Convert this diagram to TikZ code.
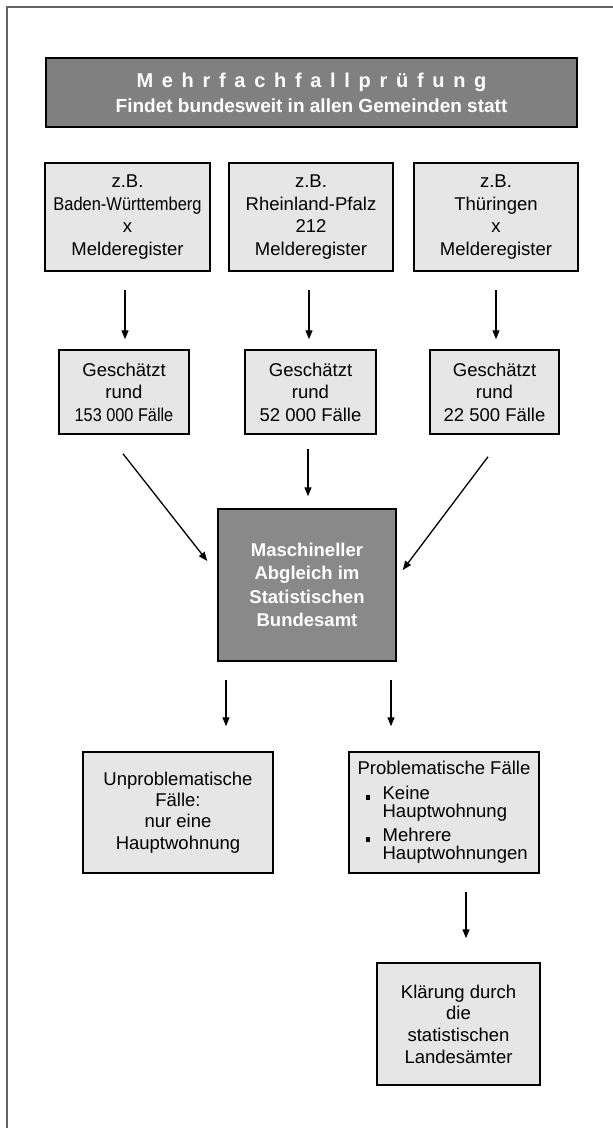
\documentclass[tikz,border=0pt]{standalone}
\usepackage{fontspec}
\setmainfont{Liberation Sans}
\usepackage{graphicx}
\usetikzlibrary{arrows.meta,calc}
\definecolor{lightbox}{RGB}{230,230,230}
\definecolor{darkbox}{RGB}{128,128,128}
\definecolor{darkboxb}{RGB}{137,137,137}
\definecolor{framegray}{RGB}{100,100,100}
\begin{document}
\begin{tikzpicture}[x=1pt,y=-1pt,
  box/.style={draw=black, line width=1.5pt, fill=lightbox, inner sep=0pt, align=center,
    font=\fontsize{18.5}{22.5}\selectfont},
  darkcell/.style={draw=black, line width=1.5pt, fill=darkbox, inner sep=0pt, align=center,
    text=white, font=\bfseries\fontsize{18.5}{23.3}\selectfont},
  arr/.style={-{Triangle[length=9pt,width=7pt]}, line width=1.3pt}]
\useasboundingbox (0,0) rectangle (613,1128);
% frame
\draw[framegray, line width=2pt] (7,1128) -- (7,7) -- (613,7);
% title
\node[darkcell, minimum width=531pt, minimum height=69pt, font=\bfseries\fontsize{19}{25}\selectfont] (T) at (311.5,92.5)
  {{\fontsize{20}{25}\selectfont\spaceskip=8.7pt M e h r f a c h f a l l p r ü f u n g}\\Findet bundesweit in allen Gemeinden statt};
% top row
\node[box, minimum width=165pt, minimum height=108pt] (t1) at (127.5,217)
  {z.B.\\\scalebox{0.89}[1]{Baden-Württemberg}\\x\\Melderegister};
\node[box, minimum width=164pt, minimum height=108pt] (t2) at (311,217)
  {z.B.\\Rheinland-Pfalz\\212\\Melderegister};
\node[box, minimum width=164pt, minimum height=108pt] (t3) at (496,217)
  {z.B.\\Thüringen\\x\\Melderegister};
% middle row
\node[box, minimum width=130pt, minimum height=84pt] (m1) at (124,392)
  {Geschätzt\\rund\\\scalebox{0.88}[1]{153 000 Fälle}};
\node[box, minimum width=131pt, minimum height=84pt] (m2) at (310.5,392)
  {Geschätzt\\rund\\52 000 Fälle};
\node[box, minimum width=129pt, minimum height=84pt] (m3) at (494.5,392)
  {Geschätzt\\rund\\22 500 Fälle};
% central
\node[darkcell, fill=darkboxb, minimum width=178pt, minimum height=152pt] (C) at (307,585)
  {Maschineller\\Abgleich im\\Statistischen\\Bundesamt};
% bottom row
\node[box, minimum width=190pt, minimum height=121pt, font=\fontsize{18.5}{21.2}\selectfont] (B1) at (178,812.5)
  {Unproblematische\\Fälle:\\nur eine\\Hauptwohnung};
\node[box, minimum width=190pt, minimum height=121pt, align=left, font=\fontsize{18.5}{18}\selectfont] (B2) at (444,812.5)
  {Problematische Fälle\\[7pt]
   \makebox[25pt][l]{\hspace*{8pt}\rule{4.5pt}{4.5pt}}Keine\\
   \hspace*{25pt}Hauptwohnung\\[6pt]
   \makebox[25pt][l]{\hspace*{8pt}\rule{4.5pt}{4.5pt}}Mehrere\\
   \hspace*{25pt}Hauptwohnungen};
\node[box, minimum width=163pt, minimum height=122pt, font=\fontsize{18.5}{21.7}\selectfont] (L) at (458.5,1024)
  {Klärung durch\\die\\statistischen\\Landesämter};
% arrow end points
\coordinate (a1s) at ($(t1.south)+(-2.5,18)$);
\coordinate (a1e) at (a1s |- m1.north);
\coordinate (a2s) at ($(t2.south)+(-2,18)$);
\coordinate (a2e) at (a2s |- m2.north);
\coordinate (a3s) at ($(t3.south)+(0,18)$);
\coordinate (a3e) at (a3s |- m3.north);
\coordinate (d1s) at ($(m1.south)+(-1,19)$);
\coordinate (d1e) at ($(C.west)+(-10,-24)$);
\coordinate (d2s) at ($(m2.south)+(-2.5,14)$);
\coordinate (d2e) at (d2s |- C.north);
\coordinate (d3s) at ($(m3.south)+(-6.5,22)$);
\coordinate (d3e) at ($(C.east)+(6,-15)$);
\coordinate (b1s) at ($(C.south)+(-81,18)$);
\coordinate (b1e) at (b1s |- B1.north);
\coordinate (b2s) at ($(C.south)+(84,18)$);
\coordinate (b2e) at (b2s |- B2.north);
\coordinate (ls) at ($(B2.south)+(22,18)$);
\coordinate (le) at (ls |- L.north);
% arrows top -> middle
\draw[arr, shorten >=10pt] (a1s) -- (a1e);
\draw[arr, shorten >=10pt] (a2s) -- (a2e);
\draw[arr, shorten >=10pt] (a3s) -- (a3e);
% middle -> central
\draw[arr] (d1s) -- (d1e);
\draw[arr, shorten >=12pt] (d2s) -- (d2e);
\draw[arr] (d3s) -- (d3e);
% central -> bottom
\draw[arr, shorten >=25pt] (b1s) -- (b1e);
\draw[arr, shorten >=25pt] (b2s) -- (b2e);
% problem -> Landesaemter
\draw[arr, shorten >=24pt] (ls) -- (le);
\end{tikzpicture}
\end{document}
